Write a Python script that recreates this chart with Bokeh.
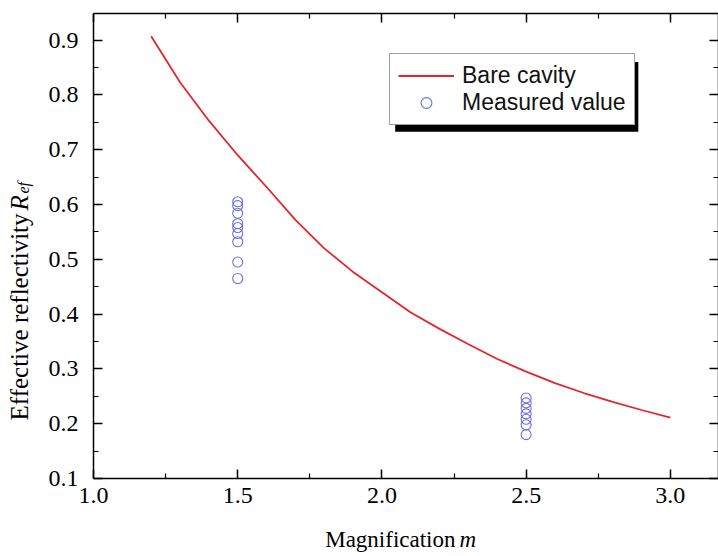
import math
from bokeh.plotting import figure
from bokeh.models import (Range1d, FixedTicker, LinearAxis, Legend, LegendItem,
                          Label, BoxAnnotation, PrintfTickFormatter)
from bokeh.embed import file_html
from bokeh.resources import INLINE

# ---- data ----
curve_m = [1.2, 1.3, 1.4, 1.5, 1.6, 1.7, 1.8, 1.9, 2.0, 2.1, 2.2, 2.3, 2.4, 2.5,
           2.6, 2.7, 2.8, 2.9, 3.0]
curve_R = [0.907, 0.823, 0.753, 0.690, 0.632, 0.572, 0.520, 0.477, 0.440, 0.403,
           0.373, 0.345, 0.318, 0.295, 0.274, 0.256, 0.240, 0.225, 0.211]

meas_m = [1.5] * 9 + [2.5] * 7
meas_R = [0.605, 0.598, 0.584, 0.565, 0.558, 0.547, 0.532, 0.495, 0.465,
          0.247, 0.238, 0.228, 0.218, 0.208, 0.198, 0.180]

x_ticks = [1.0, 1.5, 2.0, 2.5, 3.0]
x_minor = [1.25, 1.75, 2.25, 2.75]
y_ticks = [0.1, 0.2, 0.3, 0.4, 0.5, 0.6, 0.7, 0.8, 0.9]
y_minor = [0.15, 0.25, 0.35, 0.45, 0.55, 0.65, 0.75, 0.85]

RED = "#e3262d"
BLUE = "#6e6ee6"
SERIF = "Liberation Serif"
SANS = "Liberation Sans"

p = figure(width=718, height=556, output_backend="svg", toolbar_location=None,
           x_range=Range1d(1.0, 3.167), y_range=Range1d(0.1, 0.9486),
           min_border_left=93, min_border_right=0, min_border_top=13,
           min_border_bottom=78, x_axis_location=None, y_axis_location=None)
p.outline_line_color = None
p.xgrid.visible = False
p.ygrid.visible = False
p.background_fill_color = "white"


def style_axis(ax, ticks, minor, show_labels):
    ax.ticker = FixedTicker(ticks=ticks, minor_ticks=minor)
    ax.formatter = PrintfTickFormatter(format="%.1f")
    ax.axis_line_color = "black"
    ax.axis_line_width = 1.5
    ax.major_tick_line_color = "black"
    ax.major_tick_line_width = 1.5
    ax.minor_tick_line_color = "black"
    ax.minor_tick_line_width = 1.2
    ax.major_tick_in = 9
    ax.major_tick_out = 0
    ax.minor_tick_in = 5
    ax.minor_tick_out = 0
    if show_labels:
        ax.major_label_text_font = SERIF
        ax.major_label_text_font_size = "24px"
        ax.major_label_text_color = "black"
    else:
        ax.major_label_text_font_size = "1px"
        ax.major_label_text_color = None
        ax.major_label_standoff = 0


xb = LinearAxis()
style_axis(xb, x_ticks, x_minor, True)
xb.major_label_standoff = 9
p.add_layout(xb, "below")

xt = LinearAxis()
style_axis(xt, x_ticks, x_minor, False)
p.add_layout(xt, "above")

yl = LinearAxis()
style_axis(yl, y_ticks, y_minor, True)
yl.major_label_standoff = 15
p.add_layout(yl, "left")

yr = LinearAxis()
style_axis(yr, y_ticks, y_minor, False)
p.add_layout(yr, "right")

line_r = p.line(curve_m, curve_R, line_color=RED, line_width=1.8)
pts_r = p.scatter(meas_m, meas_R, marker="circle", size=10, fill_color=None,
                  line_color=BLUE, line_width=1.1)

# legend shadow
shadow = BoxAnnotation(left=2.046, right=2.889, top=0.860, bottom=0.733,
                       fill_color="black", fill_alpha=1.0, line_color=None)
p.add_layout(shadow)

legend = Legend(items=[LegendItem(label="Bare cavity", renderers=[line_r]),
                       LegendItem(label="Measured value", renderers=[pts_r])],
                location=(296, 353), orientation="vertical")
legend.label_text_font = SANS
legend.label_text_font_size = "23px"
legend.label_text_color = "#111111"
legend.glyph_width = 56
legend.glyph_height = 27
legend.label_height = 27
legend.label_standoff = 8
legend.padding = 8
legend.spacing = 0
legend.margin = 0
legend.border_line_color = "#444444"
legend.border_line_width = 1
legend.background_fill_color = "white"
legend.background_fill_alpha = 1.0
p.add_layout(legend, "center")

# axis titles with mixed upright / italic parts, placed in the side panels
common = dict(text_font=SERIF, text_color="black", text_baseline="alphabetic")
p.add_layout(Label(x=1.0, y=0.1, x_offset=362, y_offset=-61, text="Magnification",
                   text_align="right", text_font_size="23px", **common), "below")
p.add_layout(Label(x=1.0, y=0.1, x_offset=366, y_offset=-61, text="m",
                   text_align="left", text_font_style="italic",
                   text_font_size="23px", **common), "left")
p.add_layout(Label(x=1.0, y=0.1, x_offset=-74, y_offset=58,
                   text="Effective reflectivity", angle=math.pi / 2,
                   text_align="left", text_font_size="25px", **common), "left")
p.add_layout(Label(x=1.0, y=0.1, x_offset=-74, y_offset=268, text="R",
                   angle=math.pi / 2, text_align="left", text_font_style="italic",
                   text_font_size="25px", **common), "below")
p.add_layout(Label(x=1.0, y=0.1, x_offset=-70, y_offset=285, text="ef",
                   angle=math.pi / 2, text_align="left", text_font_style="italic",
                   text_font_size="16px", **common), "above")

open("out.html", "w").write(file_html(p, INLINE))
